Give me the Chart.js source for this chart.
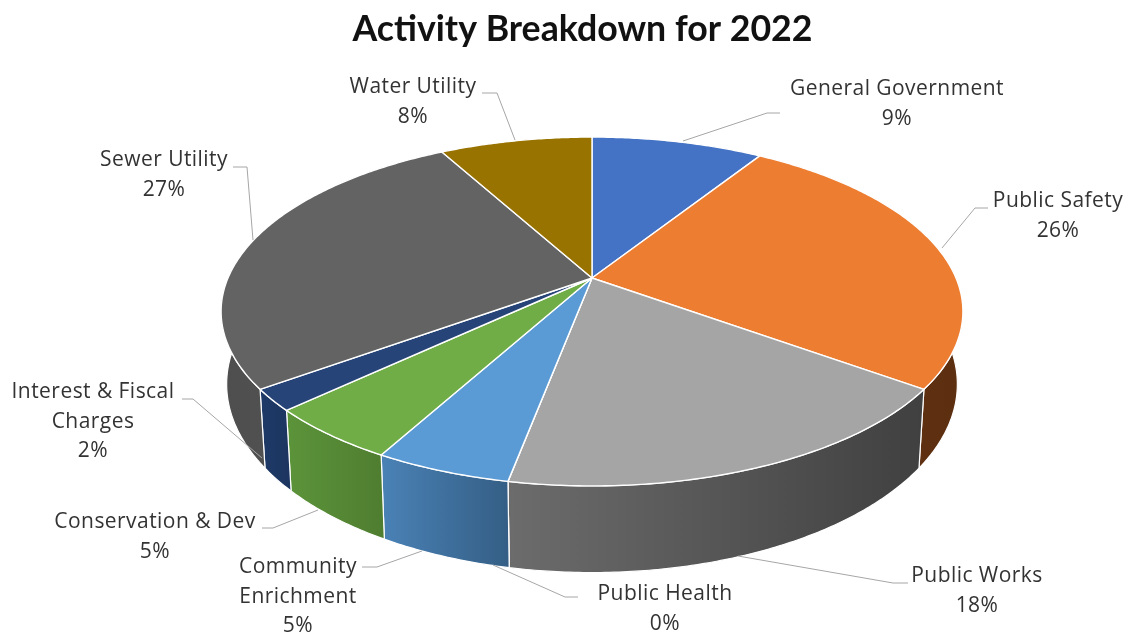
<!DOCTYPE html>
<html>
<head>
<meta charset="utf-8">
<title>Activity Breakdown for 2022</title>
<script src="https://cdn.jsdelivr.net/npm/chart.js@4"></script>
<style>
  html, body { margin: 0; background: #fff; }
  canvas { display: block; }
</style>
</head>
<body>
<canvas id="activityChart" width="1129" height="637"></canvas>
<script>
const categories = ['General Government', 'Public Safety', 'Public Works', 'Public Health',
    'Community Enrichment', 'Conservation & Dev', 'Interest & Fiscal Charges', 'Sewer Utility', 'Water Utility'];
const shares = [9, 26, 18, 0, 5, 5, 2, 27, 8];

const topColors = ['#4472c4', '#ed7d31', '#a5a5a5', '#ffc000', '#5b9bd5', '#70ad47', '#264478', '#636363', '#997300'];
// rim shading per slice, left colour then right colour
const sideColors = [
    ['#2f5597', '#2f5597'], ['#673413', '#5c2f10'], ['#6c6c6c', '#404040'], ['#7f6000', '#7f6000'],
    ['#4a82b6', '#345e85'], ['#5c943a', '#4f7d30'], ['#1f3a68', '#1c3560'], ['#4e4e4e', '#5a5a5a'], ['#7f6000', '#7f6000']
];

// names are wrapped where the column would get too wide
const labelRows = [['General Government'], ['Public Safety'], ['Public Works'], ['Public Health'],
    ['Community', 'Enrichment'], ['Conservation & Dev'], ['Interest & Fiscal', 'Charges'], ['Sewer Utility'], ['Water Utility']];
const labelSpots = [[897, 89], [1058, 201], [977, 576], [665, 594], [298, 567], [155, 522], [93, 392], [164, 160], [413, 87]];
const leaderPaths = [
    [[780, 113], [767, 113], [683, 141]],
    [[988, 208], [975, 208], [942, 248]],
    [[908, 583], [893, 583], [738, 556]],
    [[578, 597], [565, 597], [493, 565]],
    [[362, 567], [377, 567], [422, 551]],
    [[262, 528], [273, 528], [318, 510]],
    [[182, 399], [193, 399], [262, 458]],
    [[233, 167], [247, 167], [253, 240]],
    [[482, 93], [497, 93], [515, 140]]
];

// camera for the tilted disc: where the centre lands, disc radii on screen, perspective strength
const view = { cx: 592, cy: 278, rx: 364, rz: 168, persp: 0.192, depth: 70, shrink: 0.985 };

function project(angle, onBase) {
    const t = angle + Math.PI / 2;
    const X = Math.sin(t), Z = -Math.cos(t);
    const w = 1 - view.persp * Z;
    let x = view.rx * X / w;
    let y = view.rz * Z / w;
    if (onBase) {
        x *= view.shrink;
        y += view.depth / w;
    }
    return [view.cx + x, view.cy + y];
}

function ringPoints(a1, a2, onBase) {
    const steps = Math.max(1, Math.ceil(Math.abs(a2 - a1) / 0.01));
    const pts = [];
    for (let i = 0; i <= steps; i++) {
        pts.push(project(a1 + (a2 - a1) * i / steps, onBase));
    }
    return pts;
}

function tracePolygon(ctx, pts) {
    ctx.beginPath();
    pts.forEach((p, i) => i ? ctx.lineTo(p[0], p[1]) : ctx.moveTo(p[0], p[1]));
    ctx.closePath();
}

const tiltedPie = {
    id: 'tiltedPie',
    // the arcs are laid out by the doughnut controller, only the painting is replaced
    beforeDatasetsDraw(chart) {
        const ctx = chart.ctx;
        const arcs = chart.getDatasetMeta(0).data;
        ctx.save();
        ctx.lineJoin = 'round';
        ctx.strokeStyle = '#ffffff';

        // rim first, the top faces cover whatever faces away
        arcs.forEach((arc, i) => {
            const top = ringPoints(arc.startAngle, arc.endAngle, false);
            const base = ringPoints(arc.startAngle, arc.endAngle, true).reverse();
            const pts = top.concat(base);
            const xs = pts.map(p => p[0]);
            const grad = ctx.createLinearGradient(Math.min(...xs), 0, Math.max(...xs), 0);
            grad.addColorStop(0, sideColors[i][0]);
            grad.addColorStop(1, sideColors[i][1]);
            tracePolygon(ctx, pts);
            ctx.fillStyle = grad;
            ctx.fill();
            ctx.lineWidth = 1.2;
            ctx.stroke();
        });

        arcs.forEach((arc, i) => {
            const pts = [[view.cx, view.cy]].concat(ringPoints(arc.startAngle, arc.endAngle, false));
            tracePolygon(ctx, pts);
            ctx.fillStyle = topColors[i];
            ctx.fill();
            ctx.lineWidth = 1.4;
            ctx.stroke();
        });
        ctx.restore();
        return false;
    },
    afterDraw(chart) {
        const ctx = chart.ctx;
        const values = chart.data.datasets[0].data;
        const total = values.reduce((acc, v) => acc + v, 0);
        ctx.save();

        ctx.strokeStyle = '#a6a6a6';
        ctx.lineWidth = 1;
        leaderPaths.forEach(path => {
            ctx.beginPath();
            path.forEach((p, i) => i ? ctx.lineTo(p[0], p[1]) : ctx.moveTo(p[0], p[1]));
            ctx.stroke();
        });

        ctx.fillStyle = '#333333';
        ctx.font = '21px "Open Sans"';
        ctx.letterSpacing = '0.45px';
        ctx.textAlign = 'center';
        ctx.textBaseline = 'middle';
        labelRows.forEach((rows, i) => {
            const lines = rows.concat(Math.round(values[i] / total * 100) + '%');
            lines.forEach((line, n) => {
                ctx.fillText(line, labelSpots[i][0], labelSpots[i][1] + n * 29.7);
            });
        });
        ctx.restore();
    }
};

new Chart(document.getElementById('activityChart'), {
    type: 'pie',
    data: {
        labels: categories,
        datasets: [{ data: shares, backgroundColor: topColors, borderColor: '#ffffff' }]
    },
    plugins: [tiltedPie],
    options: {
        responsive: false,
        animation: false,
        layout: { padding: { left: 36, top: 6 } },
        plugins: {
            legend: { display: false },
            tooltip: { enabled: false },
            title: {
                display: true,
                text: 'Activity Breakdown for 2022',
                color: '#111111',
                font: { family: 'Lato', size: 35.7, weight: 'bold' },
                padding: { top: 2, bottom: 10 }
            }
        }
    }
});
</script>
</body>
</html>
